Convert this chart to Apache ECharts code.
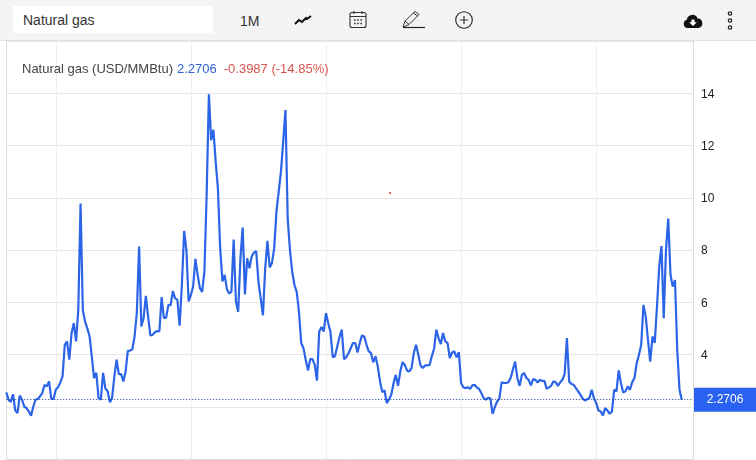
<!DOCTYPE html>
<html><head><meta charset="utf-8">
<script src="https://cdn.jsdelivr.net/npm/echarts@6/dist/echarts.min.js"></script>
<style>
html,body{margin:0;padding:0;background:#fff;overflow:hidden}
#wrap{position:relative;width:756px;height:460px;font-family:"Liberation Sans",Arial,sans-serif}
#chart{position:absolute;left:0;top:0;width:756px;height:460px}
#bar{position:absolute;left:0;top:0;width:756px;height:40px;background:#f4f4f4;border-bottom:1px solid #e2e2e2;z-index:2}
#box{position:absolute;left:13px;top:6px;width:200px;height:27px;background:#fff;font-size:14px;line-height:29px;color:#333;text-indent:10px}
#m{position:absolute;left:240px;top:13px;font-size:14px;color:#333}
#bar svg{position:absolute;overflow:visible}
</style></head><body>
<div id="wrap">
<div id="chart"></div>
<div id="bar">
<div id="box">Natural gas</div>
<div id="m">1M</div>
<svg style="left:294px;top:14px" width="18" height="12" viewBox="0 0 18 12"><path d="M1 10 L5 6 L8 8 L12 4 L13 5 L17 2" fill="none" stroke="#111" stroke-width="2"/></svg>
<svg style="left:349px;top:10px" width="18" height="19" viewBox="0 0 18 19"><rect x="1" y="2.5" width="16" height="15" rx="2" fill="none" stroke="#333" stroke-width="1.1"/><path d="M1 6.5H17M5 1V4M13 1V4" stroke="#333" stroke-width="1.1"/><path d="M5 10h1.6M8.2 10h1.6M11.4 10h1.6M5 13.5h1.6M8.2 13.5h1.6M11.4 13.5h1.6" stroke="#333" stroke-width="1.6"/></svg>
<svg style="left:402px;top:10px" width="24" height="19" viewBox="0 0 24 19"><path d="M1 17 L3 11 L13 1.5 L17 4.5 L7 14.5 Z M3 11 L7 14.5 M11.5 3 L15.5 6" fill="none" stroke="#333" stroke-width="1"/><path d="M1 17.5H23" stroke="#222" stroke-width="1.2"/></svg>
<svg style="left:455px;top:11px" width="18" height="18" viewBox="0 0 18 18"><circle cx="9" cy="9" r="8.3" fill="none" stroke="#222" stroke-width="1.1"/><path d="M9 5V13M5 9H13" stroke="#333" stroke-width="1.2"/></svg>
<svg style="left:683px;top:14px" width="20" height="14" viewBox="0 0 20 14"><path d="M4.5 14 A4.2 4.2 0 0 1 3.8 5.8 A5.6 5.6 0 0 1 14.6 4.5 A4.8 4.8 0 0 1 15.5 14 Z" fill="#111"/><path d="M8.4 5.5H11.6V8.3H13.8L10 12L6.2 8.3H8.4Z" fill="#fff"/></svg>
<svg style="left:726px;top:11px" width="8" height="19" viewBox="0 0 8 19"><circle cx="4" cy="2.5" r="1.7" fill="none" stroke="#222" stroke-width="1.2"/><circle cx="4" cy="9.5" r="1.7" fill="none" stroke="#222" stroke-width="1.2"/><circle cx="4" cy="16.5" r="1.7" fill="none" stroke="#222" stroke-width="1.2"/></svg>
</div>
</div>
<script>
var priceValues = [
2.55,2.27,2.18,2.48,1.86,1.76,2.43,2.27,2.0,1.95,1.82,1.66,2.0,2.27,2.3,2.4,2.52,2.83,2.78,2.97,
2.3,2.3,2.65,2.75,2.93,3.16,4.37,4.5,3.8,4.8,5.2,4.5,5.7,9.78,5.7,5.26,5.0,4.7,3.92,3.1,
3.3,2.33,2.27,3.3,2.7,2.6,2.17,2.33,3.16,3.8,3.25,3.25,2.97,3.35,4.14,4.15,4.2,4.7,5.6,8.13,
5.07,5.4,6.24,5.45,4.73,4.75,4.85,4.9,4.88,6.2,5.4,5.4,5.9,5.88,6.43,6.15,6.1,5.1,6.66,8.73,
8.0,6.03,6.28,6.6,7.66,7.05,6.54,6.4,7.17,10.1,13.96,12.2,12.6,11.4,10.36,8.07,6.8,7.05,6.5,6.34,
6.4,8.4,6.03,5.64,7.68,8.86,6.3,7.68,7.3,7.75,7.9,7.96,6.8,6.15,5.5,7.3,8.35,7.33,7.5,8.07,
9.47,10.23,11.0,12.15,13.36,9.2,8.0,7.17,6.66,6.4,5.64,4.44,4.24,3.8,3.39,3.82,3.82,3.6,3.0,4.88,
5.05,4.88,5.58,5.2,4.86,3.9,3.93,4.31,4.67,4.95,3.82,3.9,4.05,4.24,4.44,4.44,4.08,4.44,4.73,4.69,
4.37,4.12,4.05,3.7,3.93,3.54,2.97,2.56,2.63,2.14,2.29,2.46,2.9,3.22,2.8,3.35,3.71,3.6,3.38,3.35,
3.48,4.05,4.37,3.99,3.58,3.48,3.58,3.58,3.6,3.93,4.22,4.95,4.63,4.4,4.82,4.5,4.44,3.86,4.08,4.12,
3.89,4.09,2.9,2.75,2.71,2.75,2.68,2.82,2.84,2.74,2.68,2.52,2.33,2.27,2.34,2.32,1.73,1.99,2.2,2.31,
2.94,2.91,2.91,2.94,3.10,3.42,3.73,3.10,2.80,3.22,3.29,3.10,3.03,2.82,3.06,3.03,2.93,3.03,2.99,2.99,
2.69,2.74,2.80,2.97,2.94,2.80,2.93,3.03,3.26,4.63,2.97,2.87,2.84,2.71,2.59,2.46,2.31,2.24,2.29,2.33,
2.65,2.33,2.14,1.86,1.82,1.67,1.95,1.86,1.73,1.82,2.65,2.59,3.39,2.91,2.55,2.59,2.78,2.65,2.94,3.10,
3.67,3.99,4.37,5.9,5.46,4.56,3.73,4.69,4.44,5.83,7.36,8.15,5.39,8.0,9.2,7.05,6.6,6.85,4.18,2.65,2.27];
var tickLabels = ['4','6','8','10','12','14'];
var lastPrice = 2.2706;
var seriesName = 'Natural gas (USD/MMBtu)';
var lastText = '2.2706';
var changeText = '-0.3987 (-14.85%)';
var startYear = 1998, startMonth = 3, extraSlots = 5;
var gridYears = [2000,2005,2010,2015,2020];

var categories = [];
for (var k = 0; k < priceValues.length + extraSlots; k++) {
  var mm = startMonth - 1 + k;
  categories.push((startYear + Math.floor(mm / 12)) + '-' + ('0' + (mm % 12 + 1)).slice(-2));
}
var isGridTick = function (i, name) {
  return name.slice(-2) === '01' && gridYears.indexOf(+name.slice(0, 4)) >= 0;
};
var chart = echarts.init(document.getElementById('chart'), null, {renderer: 'canvas'});
chart.setOption({
  animation: false,
  backgroundColor: '#fff',
  textStyle: {fontFamily: '"Liberation Sans", Arial, sans-serif'},
  title: {
    left: 22, top: 63, padding: 0,
    text: '{a|' + seriesName + '}{b|' + lastText + '}{c|' + changeText + '}',
    textStyle: {
      fontWeight: 'normal',
      rich: {
        a: {fontSize: 13, fontWeight: 'normal', color: '#444', fontFamily: '"Liberation Sans"'},
        b: {fontSize: 13, fontWeight: 'normal', color: '#2f62d6', fontFamily: '"Liberation Sans"', padding: [0, 0, 0, 4]},
        c: {fontSize: 13, fontWeight: 'normal', color: '#d9534f', fontFamily: '"Liberation Sans"', padding: [0, 0, 0, 7]}
      }
    }
  },
  grid: {left: 6.25, top: 41, width: 686.75, height: 418, containLabel: false},
  xAxis: {
    type: 'category', data: categories, boundaryGap: false,
    axisLine: {show: true, lineStyle: {color: '#dcdcdc'}},
    axisTick: {show: false}, axisLabel: {show: false},
    splitLine: {show: true, interval: isGridTick, lineStyle: {color: '#eceef2', width: 1}}
  },
  yAxis: {
    type: 'value', position: 'right', min: 0, max: 16, interval: 2,
    axisLine: {show: true, lineStyle: {color: '#dcdcdc'}},
    axisTick: {show: false},
    axisLabel: {
      margin: 8, fontSize: 12, color: '#222', fontFamily: '"Liberation Sans"',
      verticalAlign: 'top', lineHeight: 2,
      formatter: function (v) { return tickLabels.indexOf(String(v)) >= 0 ? String(v) : ''; }
    },
    splitLine: {show: true, lineStyle: {color: '#e6e6e6', width: 1}}
  },
  series: [{
    type: 'line', data: priceValues, symbol: 'none', smooth: false, clip: false,
    lineStyle: {color: '#2c64e8', width: 2.2},
    markLine: {
      silent: true, symbol: 'none', animation: false,
      data: [{yAxis: lastPrice}],
      lineStyle: {color: '#1a3f9a', type: [1, 2], width: 1},
      label: {
        show: true, position: 'end', distance: 1, align: 'left',
        formatter: '{p|' + lastText + '}',
        rich: {p: {backgroundColor: '#2962f0', color: '#fff', fontSize: 12, width: 62, height: 24,
                   lineHeight: 24, align: 'center', fontFamily: '"Liberation Sans"'}}
      }
    }
  }],
  graphic: [{type: 'circle', shape: {cx: 390, cy: 193, r: 0.9}, style: {fill: '#d22'}, silent: true},
            {type: 'rect', shape: {x: 6, y: 41, width: 1, height: 418}, style: {fill: '#dcdcdc'}, silent: true}]
});
</script>
</body></html>
